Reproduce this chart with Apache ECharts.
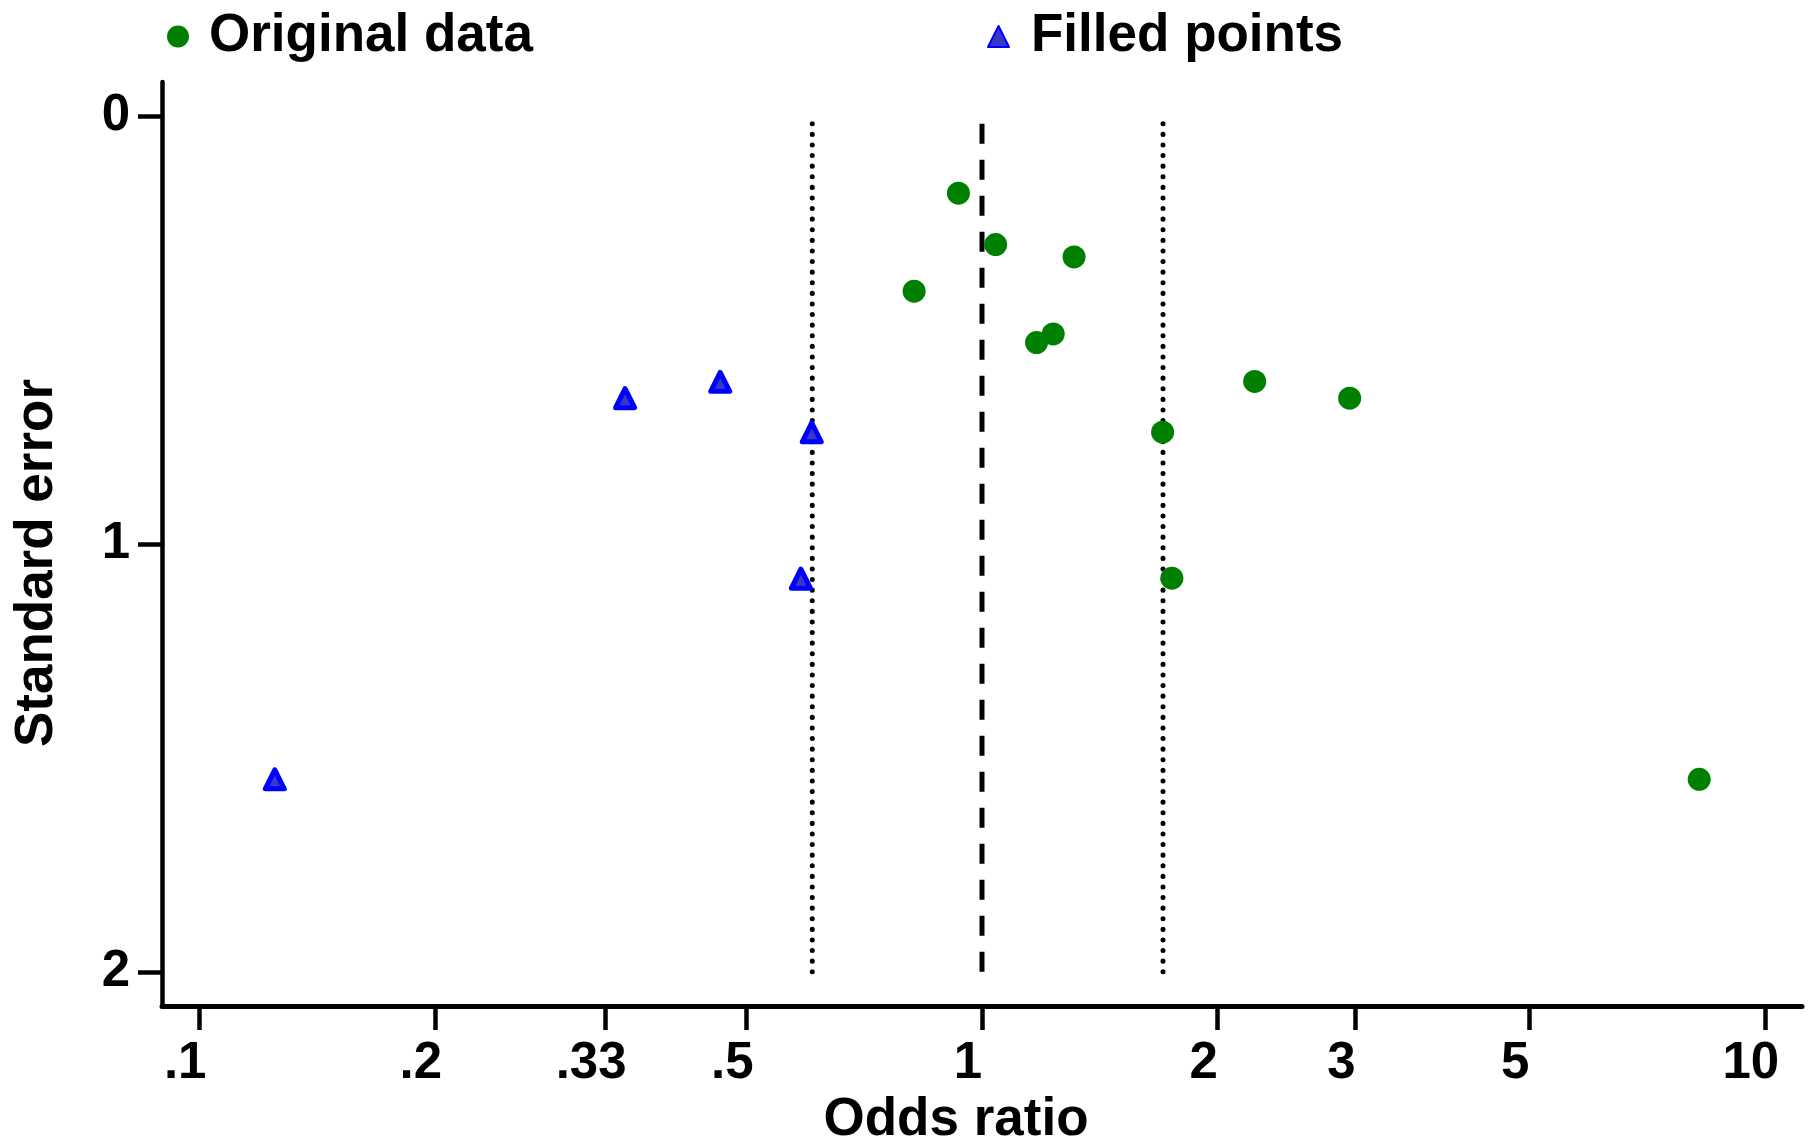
<!DOCTYPE html>
<html>
<head>
<meta charset="utf-8">
<script src="https://cdn.jsdelivr.net/npm/echarts@6/dist/echarts.min.js"></script>
<style>html,body{margin:0;padding:0;background:#fff}#c{width:1814px;height:1141px}</style>
</head>
<body>
<div id="c"></div>
<script>
// Original studies: odds ratio and standard error
const originalOR = [0.933, 1.041, 1.311, 0.819, 1.174, 1.233, 2.230, 2.949, 1.701, 1.748, 8.245];
const originalSE = [0.180, 0.300, 0.329, 0.409, 0.529, 0.509, 0.620, 0.659, 0.7385, 1.080, 1.550];
// Filled (imputed) studies
const filledOR = [0.1249, 0.350, 0.463, 0.606, 0.587];
const filledSE = [1.550, 0.659, 0.621, 0.739, 1.081];
// Reference lines
const pooledOR = 1.0;
const ciLowerOR = 0.607;
const ciUpperOR = 1.703;
const lineSE = [2, 0];
// Tick labels
const xTickValues = [0.1, 0.2, 0.33, 0.5, 1, 2, 3, 5, 10];
const xTickLabels = ['.1', '.2', '.33', '.5', '1', '2', '3', '5', '10'];
const yTickValues = [0, 1, 2];

const lg = Math.log10;
const FONT = 'Liberation Sans, Arial, Helvetica, sans-serif';
const xTickLog = xTickValues.map(lg);
const labelFor = v => {
  let best = 0, bd = 1e9;
  xTickLog.forEach((t, i) => { const d = Math.abs(t - v); if (d < bd) { bd = d; best = i; } });
  return xTickLabels[best];
};

const chart = echarts.init(document.getElementById('c'), null, {renderer: 'canvas'});
const vline = (or, type, name) => ({
  type: 'line', name: name, silent: true, symbol: 'none', z: 1,
  data: lineSE.map(s => [lg(or), s]),
  lineStyle: type
});
chart.setOption({
  animation: false,
  backgroundColor: '#fff',
  textStyle: {fontFamily: FONT, fontWeight: 'bold', color: '#000'},
  grid: {left: 162, right: 12, top: 82, bottom: 135, containLabel: false, outerBoundsMode: 'none'},
  legend: [
    {data: ['Original data'], left: 167, top: 10, padding: 0, itemWidth: 22, itemHeight: 22,
     textStyle: {fontFamily: FONT, fontWeight: 'bold', fontSize: 53, color: '#000', padding: [0, 0, 0, 15]},
     selectedMode: false},
    {data: ['Filled points'], left: 987, top: 10, padding: 0, itemWidth: 21, itemHeight: 21,
     textStyle: {fontFamily: FONT, fontWeight: 'bold', fontSize: 53, color: '#000', padding: [0, 0, 0, 17]},
     selectedMode: false}
  ],
  xAxis: {
    type: 'value', min: -1.0475, max: 1.0475,
    name: 'Odds ratio', nameLocation: 'middle', nameGap: 80,
    nameTextStyle: {fontFamily: FONT, fontWeight: 'bold', fontSize: 53, color: '#000', padding: [0, 52, 0, 0]},
    axisLine: {show: true, onZero: false, lineStyle: {color: '#000', width: 5}},
    axisTick: {show: true, length: 24, lineStyle: {color: '#000', width: 4.5}, customValues: xTickLog},
    axisLabel: {show: true, margin: 32, fontFamily: FONT, fontWeight: 'bold', fontSize: 51, color: '#000',
      customValues: xTickLog, formatter: v => labelFor(v), padding: [0, 28, 0, 0]},
    splitLine: {show: false}
  },
  yAxis: {
    type: 'value', inverse: true, min: -0.08, max: 2.08,
    name: 'Standard error', nameLocation: 'middle', nameGap: 98, nameRotate: 90,
    nameTextStyle: {fontFamily: FONT, fontWeight: 'bold', fontSize: 53, color: '#000', padding: [0, 38, 0, 0]},
    axisLine: {show: true, onZero: false, lineStyle: {color: '#000', width: 4.5}},
    axisTick: {show: true, length: 24, lineStyle: {color: '#000', width: 4.5}, customValues: yTickValues},
    axisLabel: {show: true, margin: 32, fontFamily: FONT, fontWeight: 'bold', fontSize: 51, color: '#000',
      customValues: yTickValues, formatter: v => String(v)},
    splitLine: {show: false}
  },
  series: [
    vline(ciLowerOR, {color: '#000', width: 5, type: [0.1, 10.5], cap: 'round'}, 'ciL'),
    vline(ciUpperOR, {color: '#000', width: 5, type: [0.1, 10.5], cap: 'round'}, 'ciU'),
    vline(pooledOR, {color: '#000', width: 5, type: [20, 16], cap: 'butt'}, 'pooled'),
    {
      type: 'scatter', name: 'Original data', z: 3,
      symbol: 'circle', symbolSize: 23,
      itemStyle: {color: '#008000', opacity: 1},
      data: originalOR.map((v, i) => [lg(v), originalSE[i]])
    },
    {
      type: 'scatter', name: 'Filled points', z: 3,
      symbol: 'triangle', symbolSize: 19,
      itemStyle: {color: '#3838c8', borderColor: '#0000ff', borderWidth: 5, borderJoin: 'round', opacity: 1},
      data: filledOR.map((v, i) => [lg(v), filledSE[i]])
    }
  ]
});
</script>
</body>
</html>
